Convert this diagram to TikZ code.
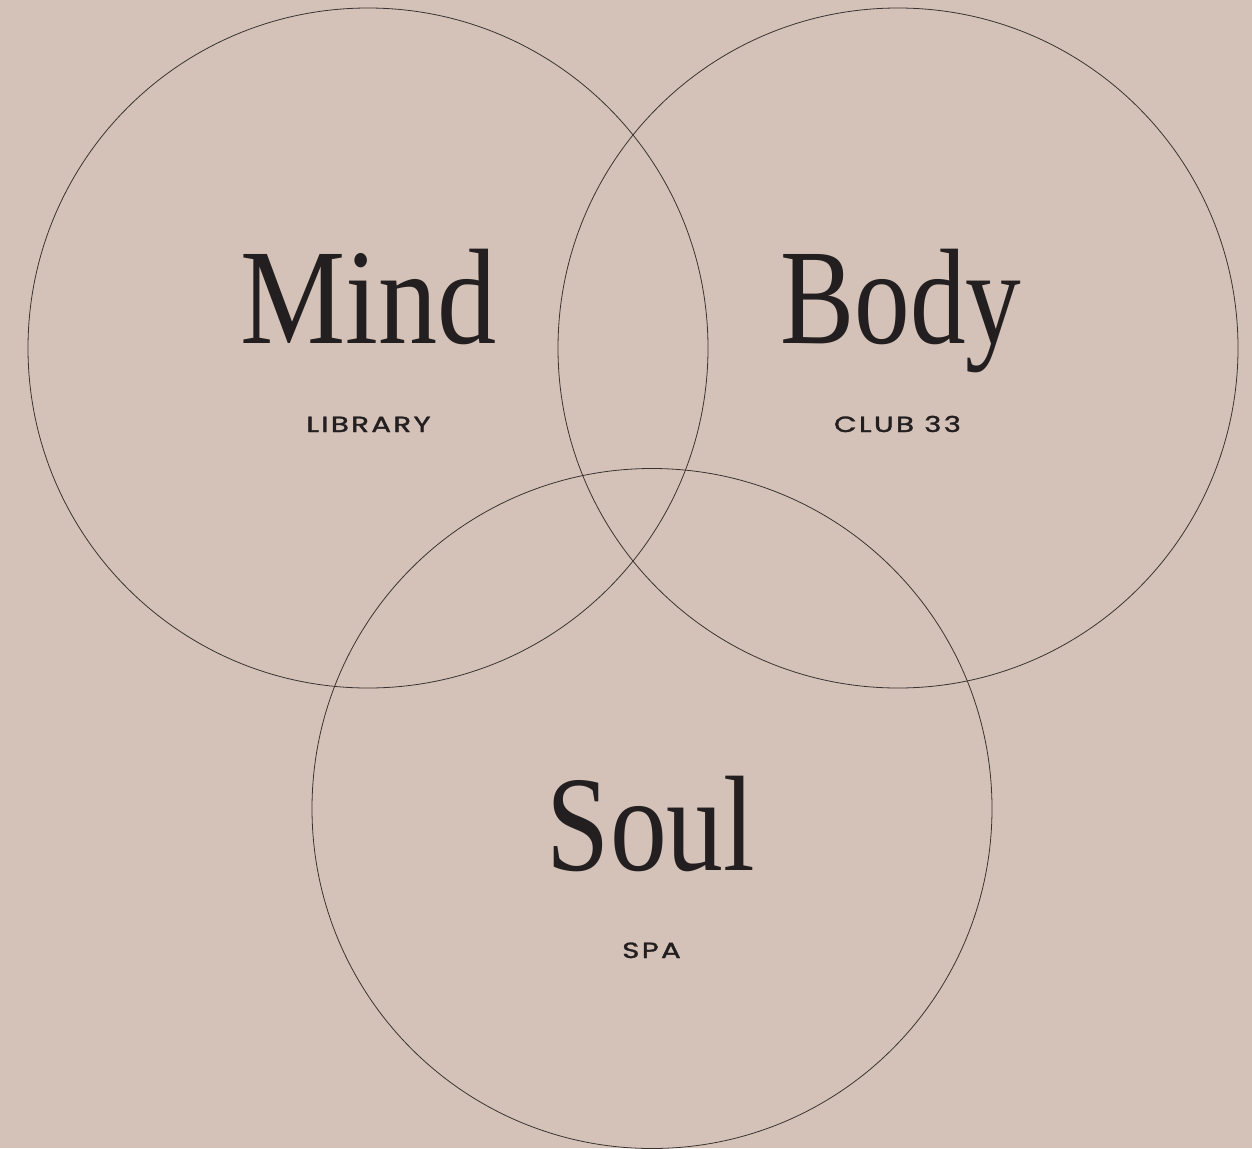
\documentclass[tikz,border=0pt]{standalone}
\usepackage{fontspec}
\setmainfont{Liberation Serif}
\newfontfamily\labelfont[LetterSpace=8,FakeBold=1.4]{Poppins}
\definecolor{bg}{HTML}{D4C2B8}
\definecolor{ink}{HTML}{231F20}
\definecolor{ring}{HTML}{3A3330}
\tikzset{
  ringnode/.style={circle, draw=ring, line width=0.8pt, minimum size=680pt, inner sep=0pt},
  bigword/.style={anchor=base, text=ink, inner sep=0pt, font=\fontsize{136}{136}\selectfont, xscale=0.87},
  smallword/.style={anchor=base, text=ink, inner sep=0pt, font=\labelfont\fontsize{22}{22}\selectfont, xscale=1.33}
}
\begin{document}
\begin{tikzpicture}[x=1pt,y=-1pt]
\fill[bg] (0,0) rectangle (1252,1148);
\useasboundingbox (0,0) rectangle (1252,1148);
\node[ringnode] (mindc) at (368,348) {};
\node[ringnode] (bodyc) at (898,348) {};
\node[ringnode] (soulc) at (652,808.5) {};
\node[bigword] (mind) at (368.5,343) {Mind};
\node[bigword, xscale=0.94] (body) at (901,343) {Body};
\node[bigword, xscale=0.96] (soul) at (651,870) {Soul};
\node[smallword] (library) at (368.5,432) {LIBRARY};
\node[smallword] (club) at (897.5,432) {CLUB 33};
\node[smallword] (spa) at (651.5,958) {SPA};
\end{tikzpicture}
\end{document}
